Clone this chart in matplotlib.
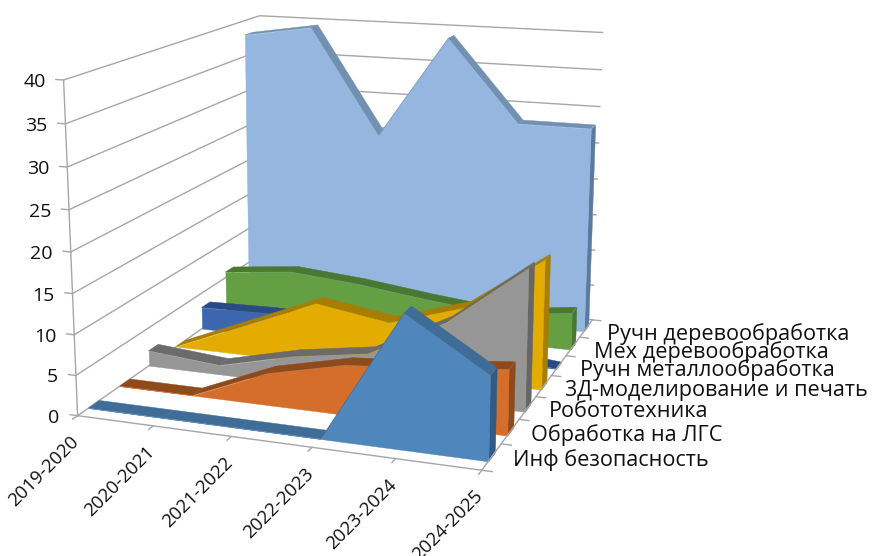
import numpy as np
import matplotlib
matplotlib.use("Agg")
import matplotlib.pyplot as plt
from mpl_toolkits.mplot3d.art3d import Poly3DCollection
from mpl_toolkits.mplot3d import proj3d

plt.rcParams["font.family"] = ["Open Sans", "DejaVu Sans"]

years = ["2019-2020", "2020-2021", "2021-2022", "2022-2023", "2023-2024", "2024-2025"]
series_names = ["Инф безопасность", "Обработка на ЛГС", "Робототехника",
                "3Д-моделирование и печать", "Ручн металлообработка",
                "Мех деревообработка", "Ручн деревообработка"]
inf_sec = [0, 0, 0, 0, 16, 10]
lgs = [0, 0, 4, 6.2, 7, 8]
robot = [2, 1.2, 3.5, 5, 10, 17.7]
model3d = [0, 4, 8, 6.5, 9.5, 16.5]
metal = [3, 3.2, 3, 2, 1, 0]
mech_wood = [5.8, 6.8, 6, 4.8, 3.8, 5]
hand_wood = [38, 39.5, 25, 39, 28, 28]
values = [inf_sec, lgs, robot, model3d, metal, mech_wood, hand_wood]
z_ticks = list(range(0, 45, 5))

# front face, top ribbon, right end
colors = [("#4F86BC", "#3F6D97", "#2E5C85"), ("#D56D2B", "#8F4A1C", "#8F4A1C"),
          ("#969696", "#6B6B6B", "#666666"), ("#E5AC00", "#A87E00", "#A87E00"),
          ("#3C66B0", "#2A4A85", "#2A4A85"), ("#649F44", "#497833", "#497833"),
          ("#95B6DE", "#7290B2", "#5A7A9E")]
line_col = "#A6A6A6"
text_col = "#111111"

W, H = 872, 556
fig = plt.figure(figsize=(W / 100, H / 100), dpi=100)
size = 1069.7
ax = fig.add_axes([-193.5 / W, -205.85 / H, size / W, size / H], projection="3d", computed_zorder=False)
ax.set_xlim(0, 5)
ax.set_ylim(0, 7)
ax.set_zlim(0, 40)
ax.set_axis_off()
ax.set_proj_type("persp", focal_length=0.3)
ax.view_init(14.150, -70.388)
ax.set_box_aspect((1.2324, 1.4228, 1.0), zoom=0.6174)


def label(x, y, z, s, dx=0, dy=0, **kw):
    # 3D anchor, offset in pixels
    X, Y, _ = proj3d.proj_transform(x, y, z, ax.get_proj())
    ax.annotate(s, (X, Y), xycoords="data", xytext=(dx, dy), textcoords="offset pixels",
                color=text_col, zorder=200, annotation_clip=False, **kw)


# walls and gridlines
grid = dict(color=line_col, lw=1, zorder=1)
for z in z_ticks:
    ax.plot([0, 0, 5], [0, 7, 7], [z, z, z], **grid)
    ax.plot([0, -0.1], [0, 0], [z, z], **grid)
    label(0, 0, z, str(z), dx=-18, dy=-2, ha="right", va="center", fontsize=14)
ax.plot([0, 0], [0, 0], [0, 40], **grid)

half = 0.17
for i in range(6, -1, -1):
    v = values[i]
    yf, yb = i + 0.5 - half, i + 0.5 + half
    zo = 10 * (7 - i)
    tops = [[(x, yf, v[x]), (x + 1, yf, v[x + 1]), (x + 1, yb, v[x + 1]), (x, yb, v[x])] for x in range(5)]
    side = [[(5, yf, 0), (5, yb, 0), (5, yb, v[5]), (5, yf, v[5])]]
    front = [[(0, yf, 0)] + [(x, yf, v[x]) for x in range(6)] + [(5, yf, 0)]]
    f, d, e = colors[i]
    for verts, col, o in ((tops, d, 0), (side, e, 1), (front, f, 2)):
        ax.add_collection3d(Poly3DCollection(verts, facecolors=col, edgecolors=col, linewidths=0.3,
                                             zorder=zo + o), autolim=False)

# floor edges, ticks and labels
ax.plot([0, 5], [0, 0], [0, 0], color=line_col, lw=1, zorder=100)
ax.plot([5, 5], [0, 7], [0, 0], color=line_col, lw=1, zorder=100)
for x, lab in enumerate(years):
    ax.plot([x, x], [0, -0.15], [0, 0], color=line_col, lw=1, zorder=100)
    label(x, 0, 0, lab, dx=-8, dy=-17, ha="right", va="top", rotation=45, rotation_mode="anchor", fontsize=13.4)
for i in range(8):
    ax.plot([5, 5.12], [i, i], [0, 0], color=line_col, lw=1, zorder=100)
for i, lab in enumerate(series_names):
    label(5, i + 0.5, 0, lab, dx=21, dy=-0.5 * i - 3, ha="left", va="center", fontsize=15.6)

fig.savefig("out.png", dpi=100)
